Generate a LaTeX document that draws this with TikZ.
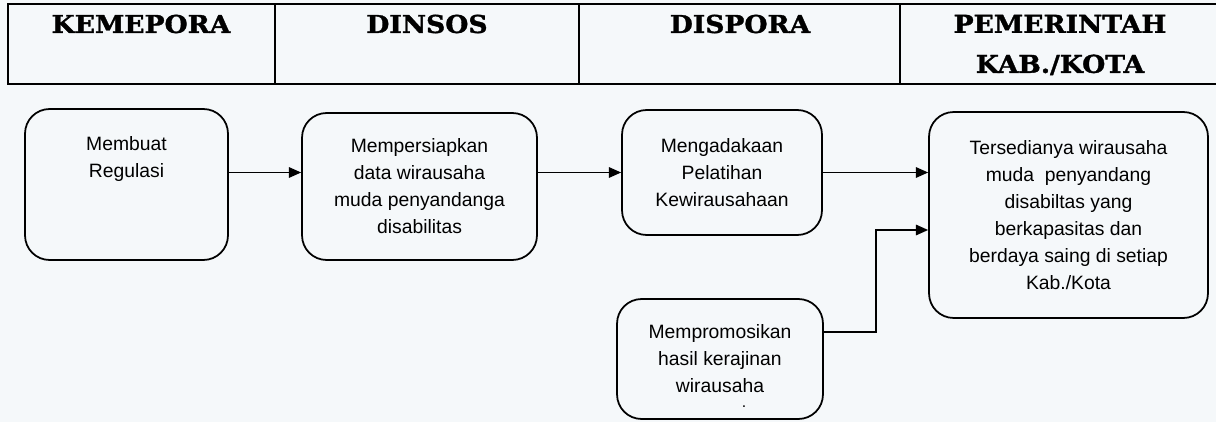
\documentclass[tikz,border=0pt]{standalone}
\usepackage{fontspec}
\setmainfont{Liberation Sans}
\newfontfamily\headfont[FakeBold=1.4,FakeStretch=1.08]{DejaVu Serif}
\usetikzlibrary{arrows.meta}
\definecolor{paper}{RGB}{245,248,250}

\begin{document}
\begin{tikzpicture}[x=0.02cm,y=-0.02cm,
    hdr/.style={font=\headfont\bfseries\fontsize{14}{22.8}\selectfont, align=center},
    proc/.style={draw, line width=1pt, rounded corners=14pt, align=center, inner sep=0pt,
        font=\fontsize{11}{15.4}\selectfont},
    flow/.style={line width=0.9pt, -{Triangle[length=7pt,width=6pt]}}]
    \useasboundingbox[fill=paper] (0,0) rectangle (1216,422);

    % Header
    \draw[line width=0.6pt] (1216,4) -- (8,4) -- (8,84) -- (1216,84);
    \draw[line width=0.6pt] (275,4) -- (275,84);
    \draw[line width=0.6pt] (579,4) -- (579,84);
    \draw[line width=0.6pt] (900,4) -- (900,84);
    \node[hdr] (kemepora) at (141,24) {KEMEPORA};
    \node[hdr] (dinsos) at (427,24) {DINSOS};
    \node[hdr] (dispora) at (740,24) {DISPORA};
    \node[hdr] (pemda) at (1060,45) {PEMERINTAH\\KAB./KOTA};

    % Steps
    \node[proc, minimum width=4.06cm, minimum height=3.02cm] (b1) at (126.5,184.5)
        {Membuat\\Regulasi\\\mbox{}\\\mbox{}};
    \node[proc, minimum width=4.70cm, minimum height=2.94cm] (b2) at (419.5,186.5)
        {Mempersiapkan\\data wirausaha\\muda penyandanga\\disabilitas};
    \node[proc, minimum width=4.00cm, minimum height=2.50cm] (b3) at (722,172.5)
        {Mengadakaan\\Pelatihan\\Kewirausahaan};
    \node[proc, minimum width=4.12cm, minimum height=2.40cm] (b4) at (720,359)
        {Mempromosikan\\hasil kerajinan\\wirausaha};
    \node[inner sep=0pt, font=\small] (dot) at (744,407) {.};
    \node[proc, minimum width=5.58cm, minimum height=4.12cm] (b5) at (1068.5,215)
        {Tersedianya wirausaha\\muda\ \ penyandang\\disabiltas yang\\berkapasitas dan\\berdaya saing di setiap\\Kab./Kota};

    % Arrows
    \coordinate (kink) at (876,332);
    \coordinate (entry) at (876,230);
    \draw[flow] (b1.east |- b3) -- (b2.west |- b3);
    \draw[flow] (b2.east |- b3) -- (b3.west);
    \draw[flow] (b3.east) -- (b5.west |- b3);
    \draw[flow] (b4.east |- kink) -- (kink) -- (entry) -- (b5.west |- entry);
\end{tikzpicture}
\end{document}
